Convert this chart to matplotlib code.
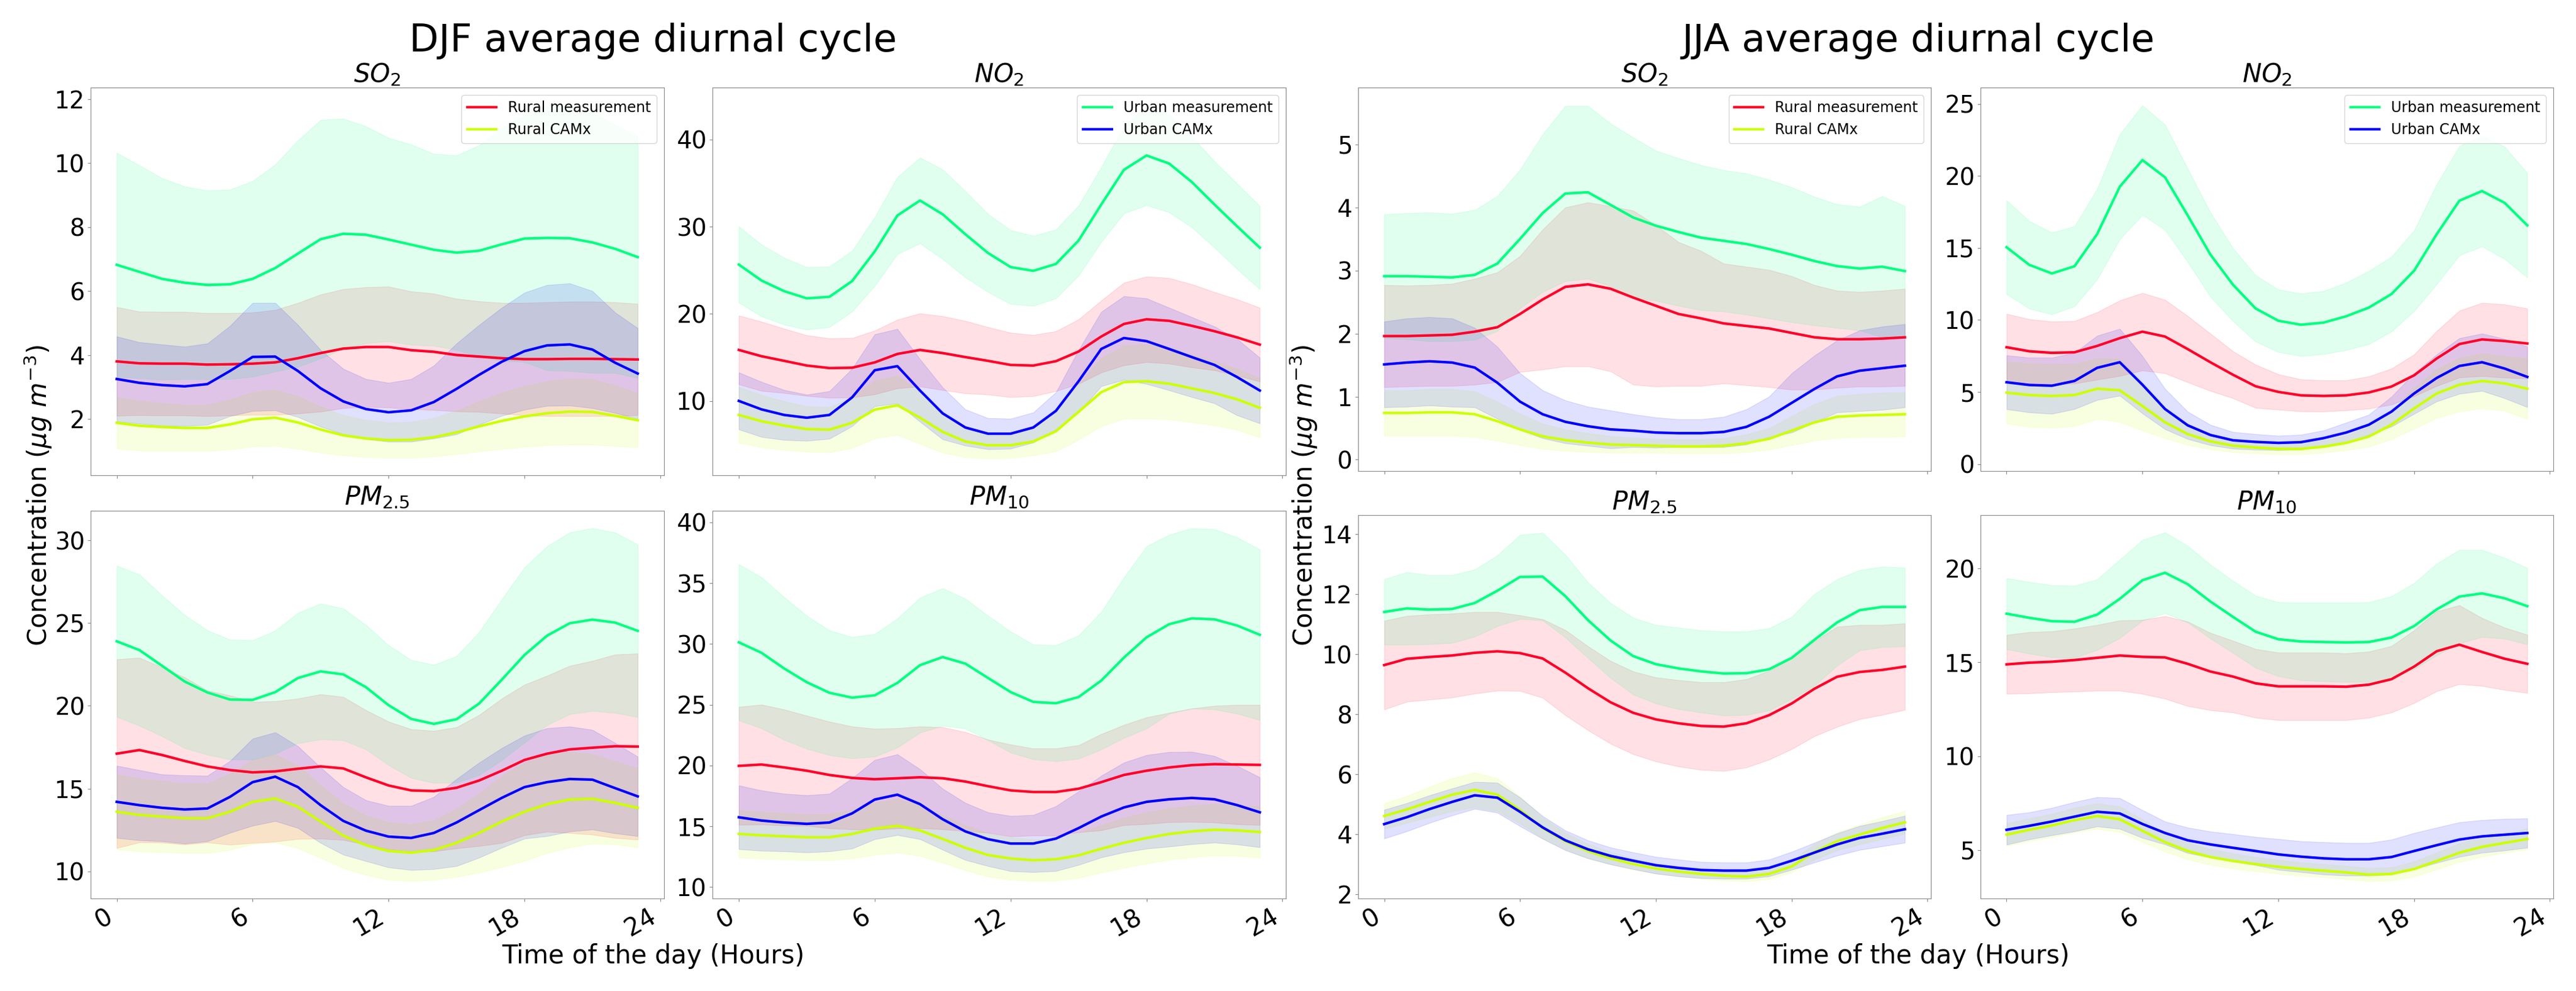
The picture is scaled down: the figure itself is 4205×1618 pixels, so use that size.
"""DJF / JJA average diurnal cycle: rural and urban measurements vs CAMx."""
import matplotlib
matplotlib.use("Agg")
import matplotlib.pyplot as plt
import numpy as np

HOURS = list(range(24))
HOUR_TICKS = [0, 6, 12, 18, 24]
SEASON_TITLES = ["DJF average diurnal cycle", "JJA average diurnal cycle"]
POLLUTANT_TITLES = ["$SO_2$", "$NO_2$", "$PM_{2.5}$", "$PM_{10}$"]
SERIES = ["Rural measurement", "Rural CAMx", "Urban measurement", "Urban CAMx"]

# ---------------- DJF SO2 ----------------
djf_so2_rural_meas = [3.80, 3.74, 3.73, 3.73, 3.70, 3.71, 3.73, 3.77, 3.90, 4.06, 4.20, 4.25, 4.25, 4.15, 4.10, 4.00, 3.95, 3.90, 3.87, 3.87, 3.88, 3.88, 3.87, 3.86]
djf_so2_rural_meas_sd = [1.70, 1.62, 1.62, 1.62, 1.61, 1.60, 1.60, 1.64, 1.73, 1.83, 1.86, 1.87, 1.89, 1.84, 1.82, 1.76, 1.73, 1.73, 1.76, 1.78, 1.79, 1.79, 1.78, 1.74]
djf_so2_rural_camx = [1.88, 1.79, 1.75, 1.72, 1.72, 1.83, 1.99, 2.04, 1.89, 1.67, 1.49, 1.39, 1.34, 1.35, 1.43, 1.58, 1.77, 1.94, 2.08, 2.18, 2.23, 2.22, 2.10, 1.96]
djf_so2_rural_camx_sd = [0.80, 0.78, 0.75, 0.72, 0.72, 0.78, 0.85, 0.88, 0.82, 0.72, 0.63, 0.58, 0.55, 0.56, 0.60, 0.68, 0.78, 0.88, 0.95, 1.00, 1.03, 1.02, 0.95, 0.85]
djf_so2_urban_meas = [6.82, 6.60, 6.38, 6.26, 6.19, 6.21, 6.38, 6.72, 7.17, 7.62, 7.79, 7.76, 7.61, 7.45, 7.29, 7.20, 7.26, 7.46, 7.64, 7.66, 7.65, 7.52, 7.32, 7.06]
djf_so2_urban_meas_sd = [3.50, 3.33, 3.15, 3.01, 2.95, 2.96, 3.06, 3.24, 3.54, 3.73, 3.60, 3.39, 3.18, 3.13, 3.00, 3.04, 3.30, 3.65, 3.86, 4.14, 4.15, 4.08, 3.88, 3.78]
djf_so2_urban_camx = [3.25, 3.13, 3.06, 3.02, 3.09, 3.50, 3.94, 3.95, 3.50, 2.96, 2.55, 2.31, 2.21, 2.27, 2.53, 2.94, 3.38, 3.79, 4.12, 4.30, 4.33, 4.17, 3.76, 3.42]
djf_so2_urban_camx_sd = [1.33, 1.27, 1.27, 1.24, 1.27, 1.41, 1.69, 1.68, 1.44, 1.20, 1.02, 0.94, 0.92, 0.98, 1.14, 1.42, 1.56, 1.69, 1.83, 1.89, 1.91, 1.83, 1.57, 1.42]

# ---------------- DJF NO2 ----------------
djf_no2_rural_meas = [15.85, 15.13, 14.60, 14.06, 13.77, 13.81, 14.42, 15.39, 15.85, 15.49, 15.03, 14.60, 14.13, 14.06, 14.56, 15.67, 17.39, 18.83, 19.37, 19.19, 18.62, 18.00, 17.29, 16.46]
djf_no2_rural_meas_sd = [3.95, 3.97, 3.69, 3.48, 3.41, 3.41, 3.66, 3.94, 4.20, 4.24, 4.16, 3.87, 3.70, 3.51, 3.44, 3.70, 4.13, 4.74, 4.91, 4.91, 4.77, 4.49, 4.37, 4.24]
djf_no2_rural_camx = [8.39, 7.67, 7.17, 6.77, 6.70, 7.49, 9.00, 9.50, 8.07, 6.45, 5.34, 4.91, 4.91, 5.34, 6.52, 8.75, 11.00, 12.16, 12.26, 11.98, 11.44, 10.90, 10.18, 9.21]
djf_no2_rural_camx_sd = [3.20, 3.00, 2.80, 2.60, 2.60, 2.90, 3.30, 3.40, 3.00, 2.40, 1.80, 1.50, 1.45, 1.60, 2.30, 3.20, 3.90, 4.20, 4.25, 4.10, 3.90, 3.70, 3.50, 3.40]
djf_no2_urban_meas = [25.65, 23.82, 22.60, 21.77, 21.95, 23.75, 27.15, 31.28, 33.00, 31.42, 29.13, 26.98, 25.36, 24.93, 25.72, 28.41, 32.54, 36.52, 38.17, 37.24, 35.12, 32.54, 30.03, 27.59]
djf_no2_urban_meas_sd = [4.38, 4.12, 3.84, 3.59, 3.48, 3.48, 3.95, 4.42, 4.92, 5.14, 4.95, 4.48, 4.24, 4.02, 3.95, 4.02, 4.30, 5.00, 5.70, 5.60, 5.20, 4.95, 4.90, 4.77]
djf_no2_urban_camx = [10.00, 9.03, 8.39, 8.07, 8.39, 10.40, 13.52, 13.99, 11.19, 8.57, 6.95, 6.24, 6.24, 6.95, 8.86, 12.26, 15.96, 17.22, 16.86, 15.96, 15.03, 14.13, 12.73, 11.19]
djf_no2_urban_camx_sd = [3.27, 3.16, 2.87, 2.65, 2.73, 3.30, 4.13, 4.27, 3.59, 2.98, 2.08, 1.79, 1.72, 1.73, 2.14, 3.59, 4.27, 4.80, 4.91, 4.74, 4.59, 4.41, 4.38, 3.77]

# ---------------- DJF PM2.5 ----------------
djf_pm25_rural_meas = [17.11, 17.33, 17.03, 16.67, 16.34, 16.12, 15.98, 16.04, 16.20, 16.34, 16.22, 15.68, 15.19, 14.89, 14.85, 15.05, 15.49, 16.08, 16.73, 17.11, 17.37, 17.47, 17.56, 17.54]
djf_pm25_rural_meas_sd = [5.70, 5.58, 5.29, 5.05, 4.59, 4.51, 4.26, 4.24, 4.24, 4.36, 4.32, 4.06, 3.86, 3.70, 3.64, 3.66, 3.96, 4.36, 4.55, 4.71, 5.05, 5.25, 5.54, 5.62]
djf_pm25_rural_camx = [13.60, 13.41, 13.31, 13.21, 13.21, 13.60, 14.20, 14.40, 13.90, 13.01, 12.16, 11.58, 11.23, 11.13, 11.29, 11.72, 12.32, 13.01, 13.60, 14.06, 14.34, 14.38, 14.14, 13.84]
djf_pm25_rural_camx_sd = [2.27, 2.20, 2.15, 2.10, 2.10, 2.30, 2.55, 2.65, 2.50, 2.20, 1.95, 1.80, 1.74, 1.72, 1.80, 2.05, 2.40, 2.75, 2.97, 2.95, 2.90, 2.70, 2.50, 2.40]
djf_pm25_urban_meas = [23.90, 23.37, 22.42, 21.47, 20.81, 20.38, 20.36, 20.83, 21.68, 22.08, 21.90, 21.13, 20.04, 19.21, 18.91, 19.19, 20.14, 21.58, 23.07, 24.24, 24.99, 25.21, 25.03, 24.53]
djf_pm25_urban_meas_sd = [4.56, 4.57, 4.25, 4.02, 3.76, 3.62, 3.60, 3.72, 3.94, 4.10, 3.98, 3.76, 3.62, 3.56, 3.57, 3.82, 4.32, 4.86, 5.29, 5.40, 5.49, 5.52, 5.45, 5.21]
djf_pm25_urban_camx = [14.20, 14.00, 13.84, 13.74, 13.80, 14.50, 15.39, 15.72, 15.09, 14.00, 13.05, 12.46, 12.10, 12.02, 12.32, 12.95, 13.70, 14.44, 15.09, 15.39, 15.58, 15.54, 15.03, 14.53]
djf_pm25_urban_camx_sd = [2.18, 2.12, 2.02, 2.06, 1.98, 2.17, 2.63, 2.68, 2.47, 2.28, 2.04, 1.84, 1.86, 1.94, 2.18, 2.63, 2.87, 3.01, 3.11, 3.26, 3.17, 3.01, 2.73, 2.40]

# ---------------- DJF PM10 ----------------
djf_pm10_rural_meas = [19.97, 20.08, 19.84, 19.57, 19.22, 18.98, 18.87, 18.95, 19.03, 18.95, 18.68, 18.30, 17.95, 17.82, 17.82, 18.09, 18.63, 19.22, 19.57, 19.84, 20.03, 20.11, 20.08, 20.05]
djf_pm10_rural_meas_sd = [4.85, 4.93, 4.77, 4.53, 4.39, 4.23, 4.15, 4.12, 4.18, 4.20, 4.07, 3.83, 3.78, 3.58, 3.58, 3.58, 3.96, 4.12, 4.39, 4.50, 4.66, 4.80, 4.91, 4.94]
djf_pm10_rural_camx = [14.37, 14.26, 14.18, 14.10, 14.10, 14.37, 14.80, 15.04, 14.66, 13.96, 13.23, 12.64, 12.35, 12.21, 12.29, 12.61, 13.15, 13.64, 14.04, 14.37, 14.58, 14.72, 14.66, 14.53]
djf_pm10_rural_camx_sd = [1.94, 1.92, 1.90, 1.88, 1.90, 2.00, 2.15, 2.20, 2.10, 1.95, 1.85, 1.78, 1.74, 1.72, 1.76, 1.85, 1.95, 2.05, 2.10, 2.12, 2.12, 2.12, 2.10, 2.10]
djf_pm10_urban_meas = [30.13, 29.27, 27.98, 26.85, 25.98, 25.58, 25.77, 26.79, 28.25, 28.92, 28.38, 27.20, 26.04, 25.23, 25.12, 25.63, 26.98, 28.87, 30.54, 31.62, 32.10, 32.02, 31.51, 30.75]
djf_pm10_urban_meas_sd = [6.42, 6.21, 5.87, 5.47, 5.13, 4.99, 5.04, 5.31, 5.55, 5.66, 5.34, 5.12, 4.98, 4.72, 4.77, 5.07, 5.66, 6.60, 7.50, 7.36, 7.41, 7.41, 7.25, 7.01]
djf_pm10_urban_camx = [15.74, 15.47, 15.31, 15.20, 15.31, 16.06, 17.20, 17.60, 16.82, 15.58, 14.58, 13.94, 13.58, 13.58, 13.99, 14.85, 15.80, 16.55, 17.01, 17.22, 17.33, 17.22, 16.74, 16.15]
djf_pm10_urban_camx_sd = [2.62, 2.48, 2.37, 2.35, 2.37, 2.89, 3.26, 3.32, 2.88, 2.51, 2.35, 2.21, 2.27, 2.35, 2.67, 3.02, 3.36, 3.69, 3.85, 3.89, 3.80, 3.56, 3.23, 2.88]

# ---------------- JJA SO2 ----------------
jja_so2_rural_meas = [1.96, 1.96, 1.97, 1.98, 2.03, 2.10, 2.31, 2.54, 2.74, 2.78, 2.71, 2.57, 2.44, 2.31, 2.24, 2.16, 2.12, 2.08, 2.01, 1.94, 1.91, 1.91, 1.92, 1.94]
jja_so2_rural_meas_sd = [0.81, 0.80, 0.80, 0.81, 0.84, 0.87, 0.92, 1.11, 1.26, 1.30, 1.31, 1.38, 1.28, 1.14, 1.07, 0.95, 0.94, 0.93, 0.90, 0.83, 0.77, 0.75, 0.76, 0.77]
jja_so2_rural_camx = [0.74, 0.74, 0.75, 0.75, 0.72, 0.61, 0.48, 0.37, 0.31, 0.27, 0.24, 0.23, 0.22, 0.21, 0.21, 0.22, 0.26, 0.33, 0.46, 0.59, 0.68, 0.70, 0.71, 0.72]
jja_so2_rural_camx_sd = [0.36, 0.36, 0.37, 0.37, 0.36, 0.31, 0.25, 0.20, 0.17, 0.15, 0.13, 0.12, 0.11, 0.11, 0.11, 0.12, 0.14, 0.17, 0.23, 0.29, 0.33, 0.34, 0.35, 0.35]
jja_so2_urban_meas = [2.91, 2.91, 2.90, 2.89, 2.93, 3.11, 3.50, 3.91, 4.22, 4.24, 4.04, 3.84, 3.71, 3.61, 3.52, 3.47, 3.42, 3.34, 3.25, 3.15, 3.07, 3.03, 3.06, 2.99]
jja_so2_urban_meas_sd = [0.98, 1.00, 1.02, 1.01, 1.03, 1.07, 1.10, 1.25, 1.39, 1.37, 1.29, 1.27, 1.19, 1.17, 1.15, 1.12, 1.12, 1.10, 1.07, 1.02, 0.98, 0.98, 1.12, 1.03]
jja_so2_urban_camx = [1.51, 1.54, 1.56, 1.54, 1.46, 1.22, 0.92, 0.72, 0.60, 0.53, 0.48, 0.46, 0.43, 0.42, 0.42, 0.44, 0.52, 0.68, 0.90, 1.12, 1.32, 1.41, 1.45, 1.49]
jja_so2_urban_camx_sd = [0.68, 0.70, 0.70, 0.70, 0.63, 0.57, 0.45, 0.38, 0.34, 0.31, 0.30, 0.26, 0.24, 0.22, 0.22, 0.24, 0.28, 0.32, 0.47, 0.53, 0.57, 0.64, 0.66, 0.66]

# ---------------- JJA NO2 ----------------
jja_no2_rural_meas = [8.11, 7.83, 7.72, 7.76, 8.20, 8.74, 9.19, 8.85, 7.98, 7.07, 6.20, 5.40, 5.01, 4.77, 4.73, 4.77, 4.97, 5.38, 6.16, 7.33, 8.33, 8.65, 8.54, 8.37]
jja_no2_rural_meas_sd = [2.32, 2.23, 2.17, 2.17, 2.34, 2.62, 2.69, 2.55, 2.30, 1.99, 1.63, 1.50, 1.23, 1.11, 1.08, 1.04, 1.12, 1.25, 1.45, 1.91, 2.32, 2.54, 2.54, 2.43]
jja_no2_rural_camx = [4.96, 4.79, 4.73, 4.79, 5.23, 5.12, 4.03, 2.90, 2.08, 1.58, 1.28, 1.15, 1.06, 1.06, 1.21, 1.47, 1.91, 2.73, 3.86, 4.90, 5.51, 5.77, 5.60, 5.23]
jja_no2_rural_camx_sd = [2.15, 2.20, 2.20, 2.15, 2.10, 2.20, 1.70, 1.10, 0.75, 0.55, 0.45, 0.40, 0.38, 0.38, 0.42, 0.50, 0.70, 1.00, 1.40, 1.70, 1.85, 1.90, 1.90, 2.10]
jja_no2_urban_meas = [15.05, 13.83, 13.23, 13.73, 15.96, 19.25, 21.10, 19.90, 17.26, 14.55, 12.45, 10.80, 9.95, 9.67, 9.82, 10.26, 10.86, 11.80, 13.42, 15.96, 18.28, 18.95, 18.13, 16.57]
jja_no2_urban_meas_sd = [3.25, 3.04, 2.84, 2.77, 3.14, 3.65, 3.80, 3.65, 3.24, 2.93, 2.53, 2.30, 2.17, 2.17, 2.19, 2.34, 2.54, 2.60, 2.80, 3.47, 3.79, 3.84, 3.90, 3.62]
jja_no2_urban_camx = [5.68, 5.49, 5.44, 5.77, 6.68, 7.07, 5.51, 3.82, 2.69, 2.02, 1.65, 1.54, 1.47, 1.52, 1.80, 2.19, 2.73, 3.64, 4.90, 5.98, 6.81, 7.07, 6.63, 6.05]
jja_no2_urban_camx_sd = [1.87, 1.90, 1.95, 1.95, 2.23, 2.32, 1.99, 1.40, 0.95, 0.71, 0.58, 0.54, 0.50, 0.52, 0.54, 0.69, 0.70, 1.04, 1.41, 1.63, 1.93, 1.99, 2.06, 2.10]

# ---------------- JJA PM2.5 ----------------
jja_pm25_rural_meas = [9.64, 9.85, 9.91, 9.96, 10.05, 10.10, 10.04, 9.86, 9.39, 8.87, 8.40, 8.05, 7.83, 7.70, 7.61, 7.59, 7.70, 7.97, 8.36, 8.85, 9.25, 9.41, 9.48, 9.59]
jja_pm25_rural_meas_sd = [1.48, 1.43, 1.42, 1.40, 1.36, 1.31, 1.26, 1.31, 1.42, 1.40, 1.38, 1.38, 1.40, 1.44, 1.46, 1.48, 1.47, 1.48, 1.52, 1.58, 1.67, 1.57, 1.50, 1.44]
jja_pm25_rural_camx = [4.61, 4.83, 5.08, 5.32, 5.48, 5.32, 4.81, 4.21, 3.77, 3.44, 3.20, 3.01, 2.86, 2.76, 2.68, 2.62, 2.59, 2.68, 2.93, 3.41, 3.77, 3.99, 4.21, 4.40]
jja_pm25_rural_camx_sd = [0.42, 0.45, 0.50, 0.55, 0.58, 0.55, 0.45, 0.35, 0.28, 0.24, 0.21, 0.19, 0.17, 0.16, 0.16, 0.16, 0.16, 0.17, 0.20, 0.26, 0.30, 0.33, 0.36, 0.38]
jja_pm25_urban_meas = [11.41, 11.53, 11.49, 11.51, 11.71, 12.12, 12.58, 12.59, 11.94, 11.14, 10.46, 9.94, 9.67, 9.53, 9.43, 9.36, 9.37, 9.50, 9.88, 10.48, 11.06, 11.47, 11.58, 11.58]
jja_pm25_urban_meas_sd = [1.09, 1.21, 1.15, 1.13, 1.12, 1.18, 1.40, 1.46, 1.38, 1.26, 1.25, 1.28, 1.31, 1.36, 1.37, 1.40, 1.39, 1.37, 1.37, 1.53, 1.44, 1.34, 1.34, 1.31]
jja_pm25_urban_camx = [4.34, 4.57, 4.84, 5.08, 5.30, 5.22, 4.75, 4.23, 3.80, 3.50, 3.28, 3.12, 2.97, 2.88, 2.81, 2.79, 2.79, 2.88, 3.12, 3.39, 3.66, 3.88, 4.02, 4.17]
jja_pm25_urban_camx_sd = [0.48, 0.47, 0.46, 0.45, 0.45, 0.50, 0.48, 0.38, 0.33, 0.30, 0.28, 0.28, 0.28, 0.28, 0.27, 0.27, 0.27, 0.28, 0.30, 0.33, 0.37, 0.40, 0.42, 0.45]

# ---------------- JJA PM10 ----------------
jja_pm10_rural_meas = [14.89, 14.98, 15.03, 15.12, 15.24, 15.36, 15.29, 15.26, 14.92, 14.51, 14.24, 13.88, 13.72, 13.72, 13.72, 13.70, 13.81, 14.10, 14.77, 15.59, 15.94, 15.55, 15.19, 14.92]
jja_pm10_rural_meas_sd = [1.57, 1.63, 1.62, 1.68, 1.75, 1.87, 1.97, 2.20, 2.25, 2.06, 1.91, 1.83, 1.80, 1.80, 1.80, 1.78, 1.76, 1.77, 1.94, 2.13, 2.10, 1.81, 1.66, 1.55]
jja_pm10_rural_camx = [5.82, 6.08, 6.31, 6.60, 6.81, 6.64, 6.03, 5.42, 4.95, 4.63, 4.42, 4.25, 4.11, 3.99, 3.90, 3.81, 3.69, 3.73, 3.99, 4.42, 4.86, 5.17, 5.38, 5.59]
jja_pm10_rural_camx_sd = [0.60, 0.60, 0.62, 0.65, 0.68, 0.68, 0.60, 0.50, 0.45, 0.42, 0.40, 0.38, 0.37, 0.36, 0.35, 0.35, 0.35, 0.35, 0.40, 0.45, 0.50, 0.52, 0.52, 0.55]
jja_pm10_urban_meas = [17.59, 17.37, 17.19, 17.16, 17.54, 18.38, 19.37, 19.77, 19.16, 18.24, 17.42, 16.63, 16.23, 16.11, 16.08, 16.06, 16.08, 16.32, 16.93, 17.82, 18.50, 18.67, 18.41, 17.99]
jja_pm10_urban_meas_sd = [1.89, 1.91, 1.92, 1.92, 1.88, 2.09, 2.15, 2.15, 2.04, 1.97, 1.92, 1.92, 1.97, 2.06, 2.09, 2.11, 2.12, 2.20, 2.29, 2.44, 2.49, 2.32, 2.15, 2.04]
jja_pm10_urban_camx = [6.08, 6.29, 6.52, 6.78, 7.04, 6.95, 6.39, 5.91, 5.52, 5.30, 5.12, 4.95, 4.77, 4.65, 4.56, 4.51, 4.51, 4.63, 4.95, 5.26, 5.56, 5.73, 5.82, 5.91]
jja_pm10_urban_camx_sd = [0.79, 0.72, 0.73, 0.78, 0.78, 0.82, 0.74, 0.61, 0.68, 0.69, 0.73, 0.75, 0.82, 0.82, 0.86, 0.87, 0.87, 0.93, 0.96, 0.94, 0.92, 0.87, 0.84, 0.78]

# y-axis ranges per panel (SO2, NO2, PM2.5, PM10)
DJF_YLIMS = [(0.23, 12.36), (1.43, 45.96), (8.36, 31.80), (9.06, 40.97)]
JJA_YLIMS = [(-0.18, 5.90), (-0.48, 26.13), (1.86, 14.64), (2.42, 22.84)]

COLORS = {
    "Rural measurement": "#ff0029",
    "Rural CAMx": "#ccff00",
    "Urban measurement": "#00ff80",
    "Urban CAMx": "#0000ff",
}
DRAW_ORDER = ["Rural measurement", "Rural CAMx", "Urban measurement", "Urban CAMx"]

W, H, DPI = 4205, 1618, 100


def panels():
    g = globals()
    out = {}
    for season in ["djf", "jja"]:
        for pol in ["so2", "no2", "pm25", "pm10"]:
            out[(season, pol)] = {
                "Rural measurement": (g[f"{season}_{pol}_rural_meas"], g[f"{season}_{pol}_rural_meas_sd"]),
                "Rural CAMx": (g[f"{season}_{pol}_rural_camx"], g[f"{season}_{pol}_rural_camx_sd"]),
                "Urban measurement": (g[f"{season}_{pol}_urban_meas"], g[f"{season}_{pol}_urban_meas_sd"]),
                "Urban CAMx": (g[f"{season}_{pol}_urban_camx"], g[f"{season}_{pol}_urban_camx_sd"]),
            }
    return out


def draw_panel(ax, series, title, ylim, legend_keys=None):
    handles = {}
    for key in DRAW_ORDER:
        mean, sd = series[key]
        mean = np.asarray(mean)
        sd = np.asarray(sd)
        ax.fill_between(HOURS, mean - sd, mean + sd, color=COLORS[key], alpha=0.12, lw=0.8)
        (line,) = ax.plot(HOURS, mean, color=COLORS[key], lw=3.0, label=key)
        handles[key] = line
    ax.set_ylim(*ylim)
    ax.set_xticks(HOUR_TICKS)
    ax.set_title(title, fontsize=30)
    ax.tick_params(axis="y", labelsize=28)
    ax.tick_params(axis="x", labelsize=29)
    ax.tick_params(color="#888888")
    for sp in ax.spines.values():
        sp.set_edgecolor("#888888")
    if legend_keys:
        ax.legend([handles[k] for k in legend_keys], legend_keys, loc="upper right", fontsize=17)


def main():
    fig = plt.figure(figsize=(W / DPI, H / DPI), dpi=DPI)
    data = panels()
    pols = ["so2", "no2", "pm25", "pm10"]
    groups = [
        ("djf", DJF_YLIMS, dict(left=148 / W, right=2099 / W, top=1 - 143 / H, bottom=1 - 1467 / H, wspace=0.0855, hspace=0.09)),
        ("jja", JJA_YLIMS, dict(left=2217 / W, right=4168 / W, top=1 - 143 / H, bottom=1 - 1467 / H, wspace=0.0866, hspace=0.115)),
    ]
    for season, ylims, gs_kw in groups:
        gs = fig.add_gridspec(2, 2, **gs_kw)
        axes = [fig.add_subplot(gs[i // 2, i % 2]) for i in range(4)]
        for i, ax in enumerate(axes):
            legend_keys = None
            if i == 0:
                legend_keys = ["Rural measurement", "Rural CAMx"]
            elif i == 1:
                legend_keys = ["Urban measurement", "Urban CAMx"]
            draw_panel(ax, data[(season, pols[i])], POLLUTANT_TITLES[i], ylims[i], legend_keys)
            if i < 2:
                ax.tick_params(labelbottom=False)
            else:
                plt.setp(ax.get_xticklabels(), rotation=30, ha="right")

    for x, title in zip([1066 / W, 3131 / W], SEASON_TITLES):
        fig.text(x, 1 - 84 / H, title, ha="center", va="baseline", fontsize=45)
        fig.text(x, 1 - 1573 / H, "Time of the day (Hours)", ha="center", va="baseline", fontsize=30)
    for x in [62 / W, 2128 / W]:
        fig.text(x, 0.5, r"Concentration ($\mu g\ m^{-3}$)", rotation=90, ha="center", va="center", fontsize=30)

    fig.savefig("out.png", dpi=DPI)
    plt.close(fig)


if __name__ == "__main__":
    main()
